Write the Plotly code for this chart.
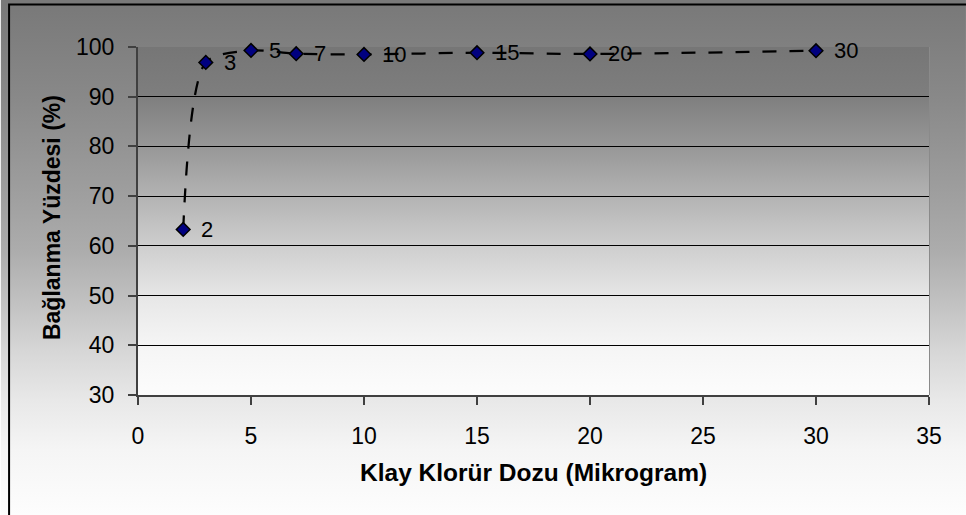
import base64
import plotly.graph_objects as go

# Doz (mikrogram) ve bağlanma yüzdesi
dose = [2, 3, 5, 7, 10, 15, 20, 30]
binding = [63.3, 96.9, 99.3, 98.65, 98.5, 98.85, 98.6, 99.25]
point_labels = [str(d) for d in dose]

x_ticks = [0, 5, 10, 15, 20, 25, 30, 35]
y_ticks = [30, 40, 50, 60, 70, 80, 90, 100]
grid_vals = [40, 50, 60, 70, 80, 90]

W, H = 966, 515
L, R, T, B = 137.5, 37, 47, 120
PW, PH = W - L - R, H - T - B
FONT = "Arial, Liberation Sans, sans-serif"


def px_x(px):
    return (px - L) / PW


def px_y(py):
    return (H - B - py) / PH


def gradient_uri(stops, height):
    parts = "".join(
        f'<stop offset="{pos / height:.4f}" stop-color="rgb({g},{g},{g})"/>'
        for pos, g in stops
    )
    svg = (
        '<svg xmlns="http://www.w3.org/2000/svg" width="100" height="100" '
        'preserveAspectRatio="none" viewBox="0 0 100 100">'
        f'<defs><linearGradient id="g" x1="0" y1="0" x2="0" y2="1">{parts}'
        '</linearGradient></defs><rect x="0" y="0" width="100" height="100" fill="url(#g)"/></svg>'
    )
    return "data:image/svg+xml;base64," + base64.b64encode(svg.encode()).decode()


# chart-area shading (pixel row, grey level)
outer_stops = [(0, 121), (5, 121), (100, 137), (200, 160), (250, 172), (300, 192),
               (350, 214), (400, 232), (450, 245), (515, 253)]
# plot-area shading (pixel row inside the plot, grey level)
inner_stops = [(0, 118), (49, 126), (103, 153), (153, 181), (203, 208),
               (253, 232), (298, 245), (348, 252)]

fig = go.Figure()

fig.add_trace(go.Scatter(
    x=dose, y=binding,
    mode="lines+markers",
    line=dict(color="black", width=2.25, dash="14px,13px", shape="spline", smoothing=0.75),
    marker=dict(symbol="diamond", size=10.5, color="#000080", line=dict(color="black", width=1.5)),
    cliponaxis=False, showlegend=False, hoverinfo="x+y",
))

# invisible trace to carry the grid-line axis
fig.add_trace(go.Scatter(x=[0], y=[30], yaxis="y2", mode="markers",
                         marker=dict(opacity=0), showlegend=False, hoverinfo="skip"))

# dose labels to the right of each point
point_annotations = [
    dict(text=lbl, x=xv, y=yv, xref="x", yref="y", xanchor="left", yanchor="middle",
         xshift=16, yshift=0, showarrow=False,
         font=dict(family=FONT, size=22, color="black"))
    for xv, yv, lbl in zip(dose, binding, point_labels)
]

fig.update_layout(
    width=W, height=H,
    margin=dict(l=L, r=R, t=T, b=B, pad=0),
    paper_bgcolor="white",
    plot_bgcolor="rgba(0,0,0,0)",
    font=dict(family=FONT, size=22, color="black"),
    xaxis=dict(
        range=[0, 35], tickvals=x_ticks, ticktext=[str(v) for v in x_ticks],
        showgrid=False, zeroline=False,
        showline=True, linecolor="#404040", linewidth=2,
        ticks="outside", ticklen=8, tickwidth=1.5, tickcolor="#404040",
        ticklabelstandoff=11,
        tickfont=dict(family=FONT, size=23, color="black"),
    ),
    yaxis=dict(
        range=[30, 100], tickvals=y_ticks, ticktext=[str(v) for v in y_ticks],
        showgrid=False, zeroline=False,
        showline=True, linecolor="#404040", linewidth=2,
        ticks="outside", ticklen=8, tickwidth=1.5, tickcolor="#404040",
        ticklabelstandoff=9,
        tickfont=dict(family=FONT, size=23, color="black"),
    ),
    yaxis2=dict(
        range=[30, 100], overlaying="y", tickvals=grid_vals,
        showgrid=True, gridcolor="black", gridwidth=1,
        showticklabels=False, ticks="", zeroline=False, showline=False,
    ),
    images=[
        dict(source=gradient_uri(outer_stops, H), xref="paper", yref="paper",
             x=px_x(0), y=px_y(0), sizex=W / PW, sizey=H / PH,
             xanchor="left", yanchor="top", sizing="stretch", layer="below"),
        dict(source=gradient_uri(inner_stops, PH), xref="x domain", yref="y domain",
             x=0, y=1, sizex=1, sizey=1,
             xanchor="left", yanchor="top", sizing="stretch", layer="below"),
    ],
    shapes=[
        # chart border
        dict(type="rect", xref="paper", yref="paper",
             x0=px_x(8.5), x1=px_x(W + 20), y0=px_y(4.5), y1=px_y(H + 20),
             line=dict(color="black", width=2), fillcolor="rgba(0,0,0,0)", layer="above"),
        # right edge of plot area
        dict(type="line", xref="x domain", yref="y domain", x0=1, x1=1, y0=0, y1=1,
             line=dict(color="#8a8a8a", width=2), layer="below"),
    ],
    annotations=point_annotations + [
        dict(text="<b>Klay Klorür Dozu (Mikrogram)</b>", xref="paper", yref="paper",
             x=px_x(533.5), y=px_y(473), xanchor="center", yanchor="middle",
             showarrow=False, font=dict(family=FONT, size=24.5, color="black")),
        dict(text="<b>Bağlanma Yüzdesi (%)</b>", xref="paper", yref="paper",
             x=px_x(51), y=px_y(217.5), xanchor="center", yanchor="middle", textangle=-90,
             showarrow=False, font=dict(family=FONT, size=23, color="black")),
    ],
)

fig.write_html("out.html")
